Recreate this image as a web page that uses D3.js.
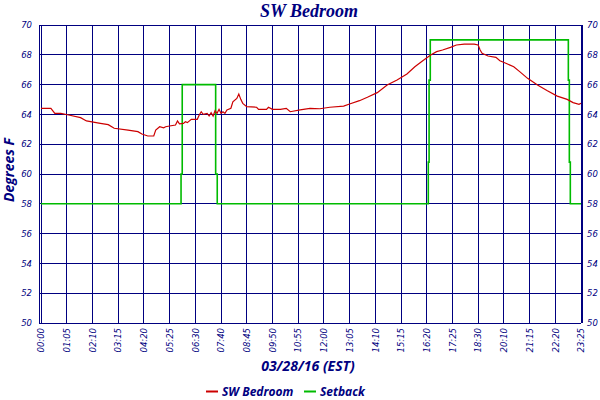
<!DOCTYPE html>
<html><head><meta charset="utf-8">
<script src="https://cdn.jsdelivr.net/npm/d3@7"></script>
<style>
body{margin:0;background:#fff;}
svg{display:block;}
</style></head>
<body>
<svg id="chart" width="600" height="400"></svg>
<script>
// ---- data ----
const tickLabels = ["00:00","01:05","02:10","03:15","04:20","05:25","06:30","07:40","08:45","09:50","10:55",
  "12:00","13:05","14:10","15:15","16:20","17:25","18:30","20:10","21:15","22:20","23:25"];
const samplesPerTick = 13;
const yTicks = [50,52,54,56,58,60,62,64,66,68,70];

// SW Bedroom temperature: sample index (5‑min samples) and value
const tempIdx = [0,5,7,10,14,20,23,30,34,37,44,49,51,54,57,58,60,62,63,65,68,69,70,72,73,74,76,79,80,81,82,84,85,86,87,88,89,90,91,92,93,94,96,97,99,100,101,102,104,109,110,114,115,117,121,124,126,131,136,141,146,153,156,161,165,170,175,180,185,189,193,197,200,203,207,210,214,219,221,222,223,226,230,232,235,239,242,246,251,256,261,266,269,272,273];
const tempVal = [64.41,64.41,64.07,64.07,63.96,63.78,63.56,63.40,63.31,63.07,62.95,62.84,62.68,62.55,62.55,62.95,63.17,63.10,63.17,63.22,63.29,63.56,63.36,63.40,63.51,63.45,63.67,63.67,63.96,64.18,64.00,64.07,63.89,64.11,63.89,64.25,64.07,64.34,64.07,64.18,64.07,64.30,64.41,64.85,65.07,65.37,65.01,64.74,64.52,64.48,64.34,64.34,64.48,64.34,64.34,64.41,64.18,64.30,64.41,64.38,64.48,64.56,64.70,64.92,65.15,65.46,65.97,66.31,66.71,67.20,67.60,67.99,68.21,68.32,68.50,68.66,68.72,68.72,68.66,68.32,68.10,67.92,67.83,67.60,67.43,67.20,66.87,66.42,65.97,65.59,65.23,65.01,64.79,64.68,64.75];

// Setback
const setIdx = [0,70.8,70.8,71.4,71.4,88.3,88.3,89.1,89.1,195.8,195.8,196.2,196.2,196.8,196.8,266.6,266.6,267.1,267.1,267.6,267.6,273];
const setVal = [58,58,60,60,66,66,60,60,58,58,60.8,60.8,66.3,66.3,69,69,66.3,66.3,60.8,60.8,58,58];

const seriesNames = ["SW Bedroom","Setback"];
const seriesColors = ["#cc0000","#00bb00"];

// ---- layout ----
const svg = d3.select("#chart");
const navy = "#000080";
const L = 41, R = 581, T = 25, B = 323;
const nSamples = (tickLabels.length-1)*samplesPerTick;
const x = d3.scaleLinear().domain([0,nSamples]).range([L,R]);
const y = d3.scaleLinear().domain([50,70]).range([B,T]);

const g = svg.append("g");
// grid
g.selectAll("line.h").data(yTicks).join("line")
  .attr("x1",L-2).attr("x2",R).attr("y1",d=>y(d)).attr("y2",d=>y(d))
  .attr("stroke",navy).attr("stroke-width",1).attr("shape-rendering","crispEdges");
g.selectAll("line.v").data(tickLabels.map((d,i)=>i)).join("line")
  .attr("x1",d=>x(d*samplesPerTick)).attr("x2",d=>x(d*samplesPerTick)).attr("y1",T).attr("y2",B)
  .attr("stroke",navy).attr("stroke-width",1).attr("shape-rendering","crispEdges");
// double borders
[L-2, R+1].forEach(xx=>g.append("line").attr("x1",xx).attr("x2",xx).attr("y1",T).attr("y2",B)
  .attr("stroke",navy).attr("stroke-width",1).attr("shape-rendering","crispEdges"));

// axes (labels only)
const tickFont = "DejaVu Sans, Verdana, sans-serif";
const yl = d3.axisLeft(y).tickValues(yTicks).tickSize(0).tickPadding(7);
svg.append("g").attr("transform",`translate(${L-2},0)`).call(yl)
  .call(s=>s.select(".domain").remove())
  .selectAll("text").attr("font-family",tickFont).attr("font-style","italic").attr("font-size",8.5).attr("fill",navy);
const yr = d3.axisRight(y).tickValues(yTicks).tickSize(0).tickPadding(5);
svg.append("g").attr("transform",`translate(${R+1},0)`).call(yr)
  .call(s=>s.select(".domain").remove())
  .selectAll("text").attr("font-family",tickFont).attr("font-style","italic").attr("font-size",8.5).attr("fill",navy);

const xa = d3.axisBottom(x).tickValues(tickLabels.map((d,i)=>i*samplesPerTick))
  .tickFormat((d,i)=>tickLabels[i]).tickSize(0).tickPadding(0);
svg.append("g").attr("transform",`translate(0,${B})`).call(xa)
  .call(s=>s.select(".domain").remove())
  .selectAll("text").attr("font-family",tickFont).attr("font-style","italic").attr("font-size",8.5).attr("fill",navy)
  .attr("text-anchor","end").attr("transform","rotate(-90)").attr("x",-5).attr("y",0).attr("dy","0.32em");

// lines
const line = d3.line().x(d=>x(d[0])).y(d=>y(d[1]));
svg.append("path").datum(setIdx.map((d,i)=>[d,setVal[i]]))
  .attr("d",line).attr("fill","none").attr("stroke",seriesColors[1]).attr("stroke-width",1.6);
svg.append("path").datum(tempIdx.map((d,i)=>[d,tempVal[i]]))
  .attr("d",line).attr("fill","none").attr("stroke",seriesColors[0]).attr("stroke-width",1.2);

// titles
const titleFont = "Liberation Serif, serif";
const labFont = "Open Sans, DejaVu Sans, sans-serif";
svg.append("text").attr("x",309).attr("y",17).attr("text-anchor","middle")
  .attr("font-family",titleFont).attr("font-weight","bold").attr("font-style","italic").attr("font-size",18)
  .attr("fill",navy).text("SW Bedroom");
svg.append("text").attr("x",308).attr("y",371).attr("text-anchor","middle")
  .attr("font-family",labFont).attr("font-weight","bold").attr("font-style","italic").attr("font-size",14)
  .attr("fill",navy).text("03/28/16 (EST)");
svg.append("text").attr("transform",`translate(14,${(T+B)/2-4}) rotate(-90)`).attr("text-anchor","middle")
  .attr("font-family",labFont).attr("font-weight","bold").attr("font-style","italic").attr("font-size",14)
  .attr("fill",navy).text("Degrees F");

// legend
const legX = [206, 304];
seriesNames.forEach((n,i)=>{
  svg.append("line").attr("x1",legX[i]).attr("x2",legX[i]+12).attr("y1",391.5).attr("y2",391.5)
    .attr("stroke",seriesColors[i]).attr("stroke-width",2);
  svg.append("text").attr("x",legX[i]+16).attr("y",395.5)
    .attr("font-family",labFont).attr("font-weight","bold").attr("font-style","italic").attr("font-size",12)
    .attr("fill",navy).text(n);
});
</script>
</body></html>
